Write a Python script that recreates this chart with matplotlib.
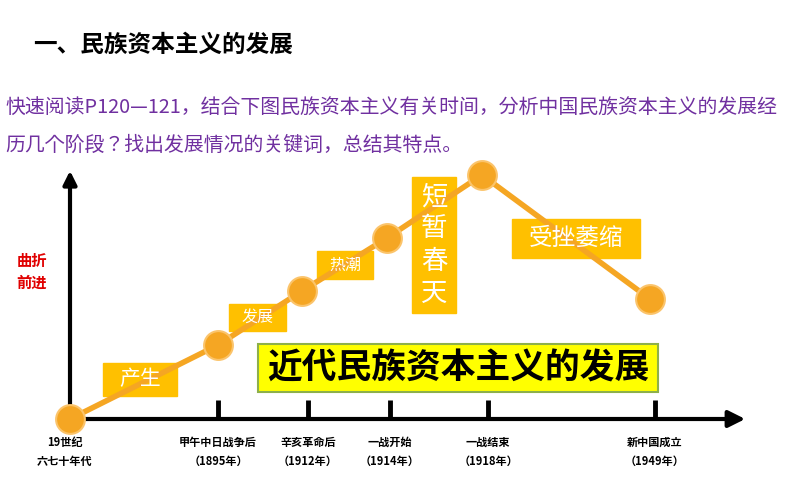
import matplotlib
matplotlib.use("Agg")
import matplotlib.pyplot as plt
from matplotlib.patches import FancyArrowPatch, Rectangle
from matplotlib import font_manager as fm

names = sorted({f.name for f in fm.fontManager.ttflist if "CJK" in f.name})
cjk = [n for n in ["Noto Sans CJK SC", "Noto Sans CJK JP", "Noto Sans CJK TC", "Noto Sans CJK KR"] if n in names] + names
plt.rcParams["font.family"] = (cjk[:1] if cjk else []) + ["DejaVu Sans"]

# data
stages = ["起点", "产生", "发展", "热潮", "短暂春天", "受挫萎缩"]
stage_x = [0, 148, 232, 317, 412, 580]      # time position along axis
stage_level = [0, 74, 128, 181, 244, 120]   # development level
tick_x = [148, 238, 320, 418, 585]
tick_labels = ["甲午中日战争后\n（1895年）", "辛亥革命后\n（1912年）", "一战开始\n（1914年）",
               "一战结束\n（1918年）", "新中国成立\n（1949年）"]
origin_label = "19世纪\n六七十年代"

W, H = 794, 496
fig = plt.figure(figsize=(W / 100, H / 100), dpi=100)
ax = fig.add_axes([0, 0, 1, 1])
X0, Y0 = 70, 419
ax.set_xlim(-X0, W - X0)
ax.set_ylim(-(H - Y0), Y0)
ax.axis("off")

def px(x, y):  # pixel -> data for decoration layout
    return x - X0, Y0 - y

ORANGE = "#F5A623"
BOX = "#FFC000"

# headings
ax.text(*px(33, 45), "一、民族资本主义的发展", fontsize=17, fontweight="bold", va="center", ha="left")
ax.text(*px(5, 107), "快速阅读P120—121，结合下图民族资本主义有关时间，分析中国民族资本主义的发展经",
        fontsize=14.3, color="#7030A0", va="center", ha="left")
ax.text(*px(5, 145), "历几个阶段？找出发展情况的关键词，总结其特点。",
        fontsize=14.3, color="#7030A0", va="center", ha="left")

# axes arrows
ax.add_patch(FancyArrowPatch((0, 0), (0, Y0 - 168), arrowstyle="-|>,head_length=8,head_width=4",
                             lw=3, color="black", mutation_scale=1))
ax.add_patch(FancyArrowPatch((0, 0), (748 - X0, 0), arrowstyle="-|>,head_length=10,head_width=5",
                             lw=3, color="black", mutation_scale=1))
for tx in tick_x:
    ax.plot([tx, tx], [0, 19], color="black", lw=3.5, solid_capstyle="butt")
for tx, lab in zip(tick_x, tick_labels):
    ax.text(tx, -33, lab, fontsize=8, fontweight="bold", ha="center", va="center", linespacing=1.6)
ax.text(-5, -33, origin_label, fontsize=8, fontweight="bold", ha="center", va="center", linespacing=1.6)

ax.text(*px(32, 272), "曲折\n前进", color="#E00000", fontsize=11, fontweight="bold", ha="center",
        va="center", linespacing=1.4)

# line
ax.plot(stage_x, stage_level, color=ORANGE, lw=4, zorder=3)
ax.scatter(stage_x, stage_level, s=430, color=ORANGE, edgecolor="#FBC46B", lw=1.5, zorder=4)

# stage label boxes
def box(x0, y0, x1, y1, txt, fs, vertical=False):
    a, b = px(x0, y1)
    ax.add_patch(Rectangle((a, b), x1 - x0, y1 - y0, color=BOX, zorder=2))
    cx, cy = px((x0 + x1) / 2, (y0 + y1) / 2)
    t = "\n".join(txt) if vertical else txt
    ax.text(cx, cy, t, color="white", fontsize=fs, ha="center", va="center", zorder=5,
            linespacing=1.25)

box(103, 363, 177, 396, stages[1], 15)
box(229, 304, 286, 331, stages[2], 11.5)
box(317, 251, 373, 279, stages[3], 11.5)
box(412, 177, 456, 313, stages[4], 19, vertical=True)
box(512, 219, 640, 258, stages[5], 17)

# big title box
a, b = px(258, 392)
ax.add_patch(Rectangle((a, b), 400, 48, facecolor="#FFFF00", edgecolor="#8DB04A", lw=1.5, zorder=5))
ax.text(*px(458, 368), "近代民族资本主义的发展", fontsize=25, fontweight="bold", ha="center",
        va="center", zorder=6)

fig.savefig("out.png", dpi=100)
